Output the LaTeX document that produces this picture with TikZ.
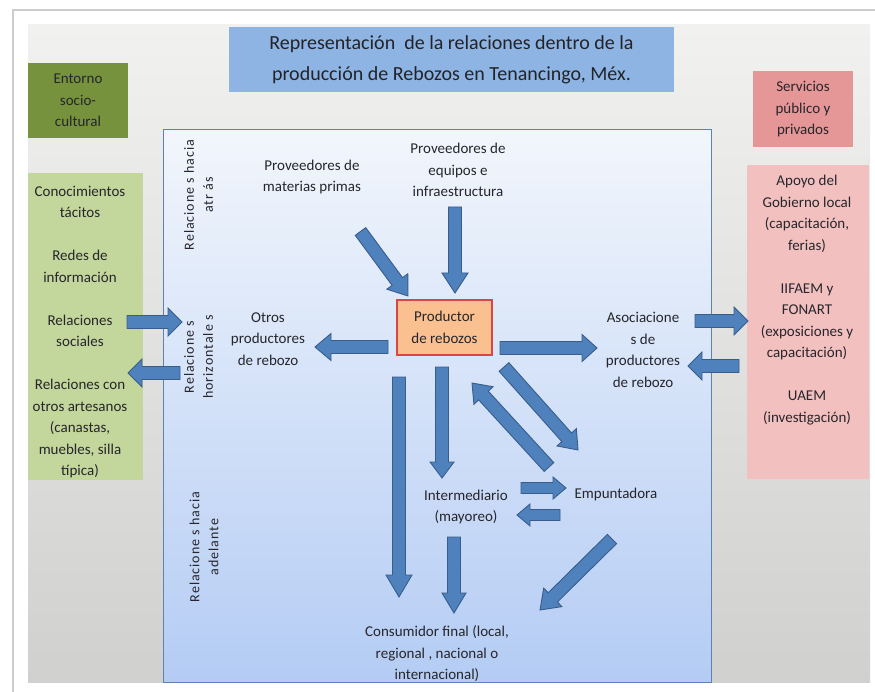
\documentclass[tikz,border=0pt]{standalone}
\usepackage{fontspec}
\setmainfont{Carlito}
\newfontfamily\spacedfont[LetterSpace=7]{Carlito}
\usetikzlibrary{calc}
\definecolor{arrowfill}{RGB}{79,129,189}
\definecolor{arrowline}{RGB}{56,93,138}
\definecolor{txt}{RGB}{38,38,44}
\definecolor{titlefill}{RGB}{141,180,226}
\definecolor{olivebox}{RGB}{118,146,60}
\definecolor{lgreen}{RGB}{195,214,155}
\definecolor{salmon}{RGB}{229,150,150}
\definecolor{lpink}{RGB}{243,192,192}
\definecolor{orangefill}{RGB}{250,192,143}
\definecolor{redline}{RGB}{220,70,60}
\definecolor{mainline}{RGB}{95,130,180}
\definecolor{maintop}{RGB}{242,246,252}
\definecolor{mainbot}{RGB}{180,204,244}
\definecolor{bgtop}{RGB}{241,241,239}
\definecolor{bgbot}{RGB}{208,208,206}
\definecolor{frameline}{RGB}{205,205,205}
% block arrow: from, to, half shaft, half head, head length
\newcommand{\barrow}[5]{%
  \coordinate (ba-h) at ($(#2)!#5!(#1)$);
  \draw[blockarrow] ($(#1)!#3!90:(#2)$) -- ($(ba-h)!#3!90:(#2)$) -- ($(ba-h)!#4!90:(#2)$) -- (#2)
     -- ($(ba-h)!#4!-90:(#2)$) -- ($(ba-h)!#3!-90:(#2)$) -- ($(#1)!#3!-90:(#2)$) -- cycle;
}
\begin{document}
\begin{tikzpicture}[x=1pt,y=-1pt,
  lbl/.style={font=\fontsize{15}{21.5}\selectfont, text=txt, align=center, inner sep=0pt},
  rlbl/.style={font=\spacedfont\fontsize{14}{19}\selectfont, text=txt, align=center, inner sep=0pt, rotate=90},
  blockarrow/.style={fill=arrowfill, draw=arrowline, line width=0.9pt, line join=miter}]
\useasboundingbox (0,0) rectangle (875,692);
\fill[white] (0,0) rectangle (875,692);
\draw[frameline, line width=1.5pt] (13,692) -- (13,10) -- (875,10);
\shade[top color=bgtop, bottom color=bgbot] (28,25) rectangle (870,682);
\node[shade, top color=maintop, bottom color=mainbot, draw=mainline, line width=1pt,
      minimum width=548pt, minimum height=552pt, inner sep=0pt] (main) at (437,406) {};

% title
\node[fill=titlefill, minimum width=445pt, minimum height=65pt, inner sep=0pt,
      font=\fontsize{20}{31}\selectfont, text={rgb,255:red,35;green,35;blue,40}, align=center] (title) at (451.5,59.5)
  {Representación\ \ de la relaciones dentro de la\\producción de Rebozos en Tenancingo, Méx.};

% left side
\node[fill=olivebox, minimum width=100pt, minimum height=75pt, lbl] (entorno) at (78,100.5)
  {Entorno\\socio-\\cultural};
\node[fill=lgreen, minimum width=115pt, minimum height=307pt, inner sep=0pt] (lbox) at (85.5,326.5) {};
\node[lbl] (ltext) at (80,332)
  {Conocimientos\\tácitos\\[21.5pt]Redes de\\información\\[21.5pt]Relaciones\\sociales\\[21.5pt]Relaciones con\\otros artesanos\\(canastas,\\muebles, silla\\típica)};

% right side
\node[fill=salmon, minimum width=100pt, minimum height=76pt, lbl] (serv) at (803,109.5)
  {Servicios\\público y\\privados};
\node[fill=lpink, minimum width=122pt, minimum height=314pt, inner sep=0pt] (rbox) at (808,322) {};
\node[lbl] (rtext) at (807,300)
  {Apoyo del\\Gobierno local\\(capacitación,\\ferias)\\[21.5pt]IIFAEM y\\FONART\\(exposiciones y\\capacitación)\\[21.5pt]UAEM\\(investigación)};

% rotated labels
\node[rlbl] (rl1) at (198.5,195) {Relacione s hacia\\atr ás};
\node[rlbl] (rl2) at (198.5,357) {Relacione s\\horizontale s};
\node[rlbl] (rl3) at (204,547) {Relacione s hacia\\adelante};

% inner nodes
\node[lbl] (pmp) at (312,177) {Proveedores de\\materias primas};
\node[lbl] (peq) at (458,170) {Proveedores de\\equipos e\\infraestructura};
\node[lbl, fill=orangefill, draw=redline, line width=1.6pt, minimum width=95pt, minimum height=55pt] (prod) at (444.5,327.5)
  {Productor\\de rebozos};
\node[lbl] (otros) at (268,339) {Otros\\productores\\de rebozo};
\node[lbl] (asoc) at (643,350) {Asociacione\\s de\\productores\\de rebozo};
\node[lbl] (inter) at (466,507) {Intermediario\\(mayoreo)};
\node[lbl] (empu) at (616,494) {Empuntadora};
\node[lbl] (cons) at (437,654) {Consumidor final (local,\\regional , nacional o\\internacional)};

% arrow end points
\coordinate (pmp-s) at (360.5,231.5);   \coordinate (prod-nw) at (408,296);
\coordinate (peq-s) at (455,207);       \coordinate (prod-n) at (455,293);
\coordinate (prod-w) at (388,347);      \coordinate (otros-e) at (315,347);
\coordinate (prod-e) at (500,348);      \coordinate (asoc-w) at (597,348);
\coordinate (prod-s1) at (399,377);     \coordinate (cons-n1) at (399,597);
\coordinate (prod-s2) at (442,367);     \coordinate (inter-n) at (442,478);
\coordinate (prod-se) at (504,367);     \coordinate (empu-nw) at (578,450);
\coordinate (empu-nw2) at (549,467);    \coordinate (prod-se2) at (472,383);
\coordinate (inter-e1) at (521,488);    \coordinate (empu-w1) at (566,488);
\coordinate (empu-w2) at (560,515);     \coordinate (inter-e2) at (517,515);
\coordinate (inter-s) at (454,537);     \coordinate (cons-n2) at (454,613);
\coordinate (empu-s) at (612,539);      \coordinate (cons-ne) at (540,610);
\coordinate (lbox-e1) at (127,322);     \coordinate (main-w1) at (182,322);
\coordinate (main-w2) at (180,373);     \coordinate (lbox-e2) at (128,373);
\coordinate (asoc-e1) at (695,321);     \coordinate (rbox-w1) at (748,321);
\coordinate (rbox-w2) at (739,366);     \coordinate (asoc-e2) at (688,366);

% arrows
\barrow{pmp-s}{prod-nw}{6.5pt}{13pt}{18pt}
\barrow{peq-s}{prod-n}{6.5pt}{13pt}{20pt}
\barrow{prod-w}{otros-e}{6.5pt}{13.5pt}{16pt}
\barrow{prod-e}{asoc-w}{6.5pt}{13.5pt}{15pt}
\barrow{prod-s1}{cons-n1}{6.5pt}{13pt}{22pt}
\barrow{prod-s2}{inter-n}{6.5pt}{12pt}{16pt}
\barrow{prod-se}{empu-nw}{6.5pt}{13pt}{17pt}
\barrow{empu-nw2}{prod-se2}{6.5pt}{13pt}{17pt}
\barrow{inter-e1}{empu-w1}{5.5pt}{11pt}{13pt}
\barrow{empu-w2}{inter-e2}{5.5pt}{11pt}{13pt}
\barrow{inter-s}{cons-n2}{6.5pt}{12pt}{20pt}
\barrow{empu-s}{cons-ne}{6.5pt}{13pt}{18pt}
\barrow{lbox-e1}{main-w1}{6.5pt}{14pt}{14pt}
\barrow{main-w2}{lbox-e2}{6.5pt}{14pt}{14pt}
\barrow{asoc-e1}{rbox-w1}{6.5pt}{14pt}{14pt}
\barrow{rbox-w2}{asoc-e2}{6.5pt}{14pt}{14pt}
\end{tikzpicture}
\end{document}
